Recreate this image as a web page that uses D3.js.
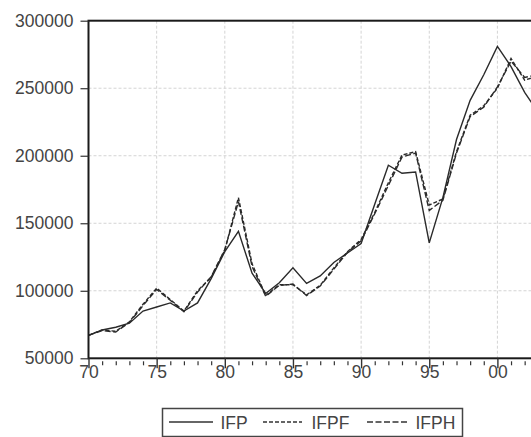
<!DOCTYPE html>
<html>
<head>
<meta charset="utf-8">
<script src="https://cdn.jsdelivr.net/npm/d3@7"></script>
<style>
  html, body { margin: 0; padding: 0; background: #fff; }
  svg { display: block; }
  text { font-family: "Liberation Sans", Arial, sans-serif; }
</style>
</head>
<body>
<svg id="chart" width="531" height="437"></svg>
<script>
const years = d3.range(1970, 2004);
const ifp  = [67000,71000,73000,76000,85000,88000,91000,85000,91000,109000,129000,144000,113000,98000,106000,117000,105500,111000,121000,128000,135000,164000,193000,187000,188000,135500,169000,212000,241000,260000,281000,266000,247000,232000];
const ifpf = [67000,71000,70000,77000,90000,102000,93500,85000,100000,110000,130000,169000,120000,96500,104500,104500,97000,104000,117000,129000,138000,158000,180000,200500,203000,163500,168000,203000,230000,237000,250000,272000,256000,259000];
const ifph = [67000,70500,69500,76500,89000,101000,93000,84500,99000,110500,130500,166000,118000,96000,104000,105000,96500,103500,116000,128500,137000,157000,178000,199000,202000,159500,167000,202000,229000,236000,251000,270000,258000,260000];
const yTicks = [50000,100000,150000,200000,250000,300000];
const xTickYears = [1970,1975,1980,1985,1990,1995,2000];
const xTickLabels = ["70","75","80","85","90","95","00"];
const seriesNames = ["IFP","IFPF","IFPH"];

const svg = d3.select("#chart");
const pLeft = 88.5, pTop = 20.7, pBottom = 358.3;
const x = d3.scaleLinear().domain([1970, 2003]).range([pLeft, pLeft + 33 * 13.63]);
const y = d3.scaleLinear().domain([50000, 300000]).range([pBottom, pTop]);
const pRight = x(2003);

// grid
const grid = svg.append("g");
grid.selectAll("line.v").data(xTickYears.slice(1)).join("line")
  .attr("x1", d => x(d)).attr("x2", d => x(d))
  .attr("y1", pTop).attr("y2", pBottom)
  .attr("stroke", "#d4d4d4").attr("stroke-width", 1).attr("stroke-dasharray", "3,2");
grid.selectAll("line.h").data(yTicks.slice(1, -1)).join("line")
  .attr("x1", pLeft).attr("x2", pRight)
  .attr("y1", d => y(d)).attr("y2", d => y(d))
  .attr("stroke", "#d4d4d4").attr("stroke-width", 1).attr("stroke-dasharray", "3,2");

// lines
const series = [
  {name: "IFP", values: ifp, dash: null},
  {name: "IFPF", values: ifpf, dash: "4,2"},
  {name: "IFPH", values: ifph, dash: "6,2.5"}
];
const line = d3.line().x((d, i) => x(years[i])).y(d => y(d));
svg.append("g").selectAll("path").data(series).join("path")
  .attr("d", s => line(s.values))
  .attr("fill", "none")
  .attr("stroke", "#2a2a2a")
  .attr("stroke-width", 1.4)
  .attr("stroke-dasharray", s => s.dash);

// frame
svg.append("rect").attr("x", pLeft).attr("y", pTop)
  .attr("width", pRight - pLeft).attr("height", pBottom - pTop)
  .attr("fill", "none").attr("stroke", "#1a1a1a").attr("stroke-width", 2);

// y axis
const yAxis = d3.axisLeft(y).tickValues(yTicks).tickSize(8).tickPadding(7).tickFormat(d => String(d));
const yg = svg.append("g").attr("transform", `translate(${pLeft},0)`).call(yAxis);
yg.select(".domain").remove();
yg.selectAll(".tick line").attr("stroke", "#333").attr("stroke-width", 1.2);
yg.selectAll(".tick text").attr("font-size", 17.5).attr("fill", "#444")
  .attr("font-family", "'Liberation Sans', Arial, sans-serif");

// x axis minor ticks
const xMinor = d3.axisBottom(x).tickValues(years.filter(v => v % 5 !== 0)).tickSize(4).tickFormat("");
const xm = svg.append("g").attr("transform", `translate(0,${pBottom + 3})`).call(xMinor);
xm.select(".domain").remove();
xm.selectAll(".tick line").attr("stroke", "#333").attr("stroke-width", 1.2);

// x axis major ticks
const xAxis = d3.axisBottom(x).tickValues(xTickYears).tickSize(10).tickPadding(-3)
  .tickFormat((d, i) => xTickLabels[i]);
const xg = svg.append("g").attr("transform", `translate(0,${pBottom})`).call(xAxis);
xg.select(".domain").remove();
xg.selectAll(".tick line").attr("stroke", "#333").attr("stroke-width", 1.4);
xg.selectAll(".tick text").attr("font-size", 17.5).attr("fill", "#444")
  .attr("font-family", "'Liberation Sans', Arial, sans-serif");

// legend
const lg = svg.append("g");
lg.append("rect").attr("x", 162.5).attr("y", 408.5).attr("width", 300).attr("height", 28)
  .attr("fill", "#fff").attr("stroke", "#444").attr("stroke-width", 1.5);
const legendItems = [
  {name: seriesNames[0], dash: null, x1: 169, x2: 213, tx: 220.5},
  {name: seriesNames[1], dash: "4,2", x1: 263, x2: 302, tx: 311.5},
  {name: seriesNames[2], dash: "6,2.5", x1: 367, x2: 407, tx: 415.5}
];
legendItems.forEach(it => {
  lg.append("line").attr("x1", it.x1).attr("x2", it.x2).attr("y1", 422).attr("y2", 422)
    .attr("stroke", "#333").attr("stroke-width", 1.3).attr("stroke-dasharray", it.dash);
  lg.append("text").attr("x", it.tx).attr("y", 428.5).attr("font-size", 17.5)
    .attr("fill", "#444").text(it.name);
});
</script>
</body>
</html>
